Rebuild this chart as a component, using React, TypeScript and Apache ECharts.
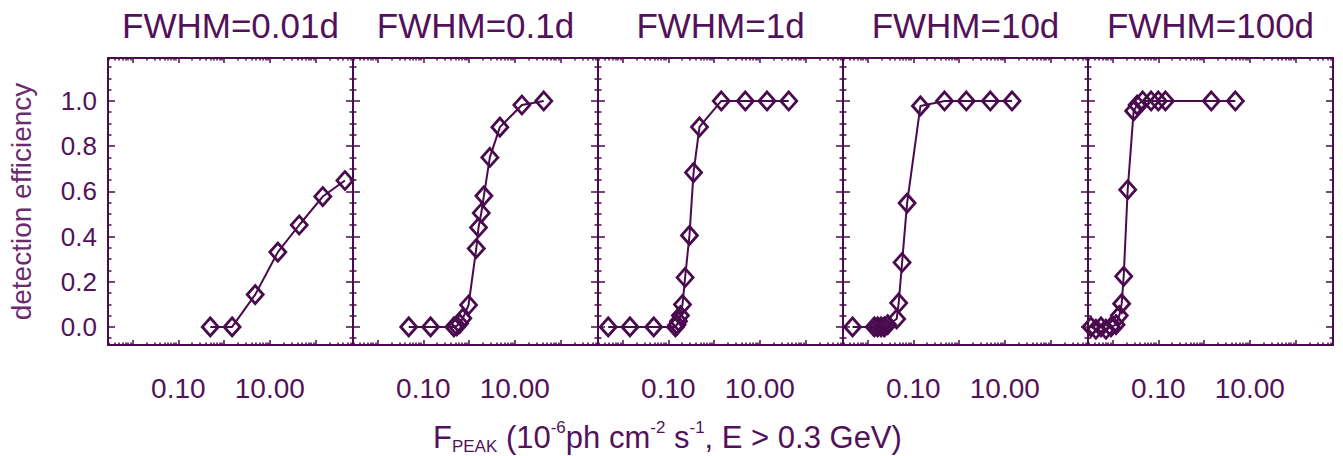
import React, { useEffect, useRef } from "react";
import * as echarts from "echarts";

// ---------- data ----------
const panelTitles = ["FWHM=0.01d", "FWHM=0.1d", "FWHM=1d", "FWHM=10d", "FWHM=100d"];

const p1X = [0.5, 1.5, 4.8, 15, 44, 144, 440];
const p1Y = [0, 0, 0.143, 0.331, 0.451, 0.577, 0.648];

const p2X = [0.048, 0.144, 0.466, 0.54, 0.62, 0.73, 0.975, 1.44, 1.61, 1.85, 2.11, 2.85, 4.72, 14.3, 43];
const p2Y = [0, 0, 0, 0.005, 0.015, 0.038, 0.097, 0.347, 0.44, 0.504, 0.58, 0.75, 0.884, 0.982, 1.0];

const p3X = [0.00485, 0.0145, 0.0479, 0.143, 0.155, 0.167, 0.184, 0.204, 0.233, 0.29, 0.356, 0.481, 1.44, 4.83, 14.4, 43];
const p3Y = [0, 0, 0, 0, 0.01, 0.025, 0.05, 0.099, 0.219, 0.405, 0.683, 0.885, 1, 1, 1, 1];

const p4X = [0.00469, 0.014, 0.0166, 0.0197, 0.0232, 0.0275, 0.0432, 0.0479, 0.0568, 0.0731, 0.143, 0.481, 1.44, 4.83, 14.4];
const p4Y = [0, 0, 0, 0, 0, 0.01, 0.035, 0.106, 0.285, 0.548, 0.978, 1, 1, 1, 1];

const p5X = [0.00336, 0.00432, 0.00557, 0.00716, 0.00922, 0.0119, 0.014, 0.0158, 0.0175, 0.0214, 0.0289, 0.0343, 0.0455, 0.0695, 0.1, 0.143, 1.44, 4.83];
const p5Y = [0, -0.01, 0, -0.01, 0, 0.01, 0.05, 0.103, 0.224, 0.607, 0.956, 0.982, 1, 1, 1, 1, 1, 1];

const panelX = [p1X, p2X, p3X, p4X, p5X];
const panelY = [p1Y, p2Y, p3Y, p4Y, p5Y];

const xMajorTicks = [0.01, 0.1, 1, 10, 100];
const xLabelTicks = [0.1, 10];
const xMinorTicks: number[] = [];
[0.001, 0.01, 0.1, 1, 10, 100].forEach((d) => {
  for (let m = 2; m <= 9; m++) xMinorTicks.push(+(d * m).toPrecision(3));
});
const yMajorTicks = [0, 0.2, 0.4, 0.6, 0.8, 1.0];
const yMinorTicks = [-0.05, 0.05, 0.1, 0.15, 0.25, 0.3, 0.35, 0.45, 0.5, 0.55, 0.65, 0.7, 0.75, 0.85, 0.9, 0.95, 1.05, 1.1, 1.15];

const X_MIN = 0.0029;
const X_MAX = 660;
const Y_MIN = -0.08;
const Y_MAX = 1.19;

const LINE = "#4a0a4e";
const TEXT = "#52115a";
const NAME = "#6a2c6e";
const FONT = "Liberation Sans, Arial, Helvetica, sans-serif";

const GRID_LEFT0 = 108;
const GRID_W = 245;
const GRID_TOP = 58;
const GRID_H = 287;

export default function App() {
  const ref = useRef<HTMLDivElement>(null);

  useEffect(() => {
    if (!ref.current) return;
    const chart = echarts.init(ref.current, null, { renderer: "svg" });

    const grids: any[] = [];
    const xAxes: any[] = [];
    const yAxes: any[] = [];
    const series: any[] = [];
    const titles: any[] = [];

    panelTitles.forEach((t, i) => {
      const left = GRID_LEFT0 + GRID_W * i;
      grids.push({ left, top: GRID_TOP, width: GRID_W, height: GRID_H, outerBoundsMode: "none", containLabel: false });
      titles.push({
        text: t,
        left: left + GRID_W / 2,
        top: 8,
        textAlign: "center",
        padding: 0,
        textStyle: { fontSize: 35, fontWeight: "normal", color: TEXT, fontFamily: FONT },
      });

      const xBase = (pos: string, major: boolean) => ({
        type: "log",
        gridIndex: i,
        min: X_MIN,
        max: X_MAX,
        position: pos,
        axisLine: { show: major, onZero: false, lineStyle: { color: LINE, width: 2 } },
        axisTick: {
          show: true,
          inside: true,
          length: major ? 5 : 2.5,
          customValues: major ? xMajorTicks : xMinorTicks,
          lineStyle: { color: LINE, width: 1.5 },
        },
        axisLabel:
          major && pos === "bottom"
            ? {
                show: true,
                customValues: xLabelTicks,
                formatter: (v: number) => Number(v).toFixed(2),
                margin: 29,
                fontSize: 28,
                color: TEXT,
                fontFamily: FONT,
              }
            : { show: false },
        splitLine: { show: false },
        minorTick: { show: false },
      });
      xAxes.push(xBase("bottom", true), xBase("bottom", false), xBase("top", true), xBase("top", false));

      const yBase = (pos: string, major: boolean) => {
        const withLabel = major && pos === "left" && i === 0;
        const ax: any = {
          type: "value",
          gridIndex: i,
          min: Y_MIN,
          max: Y_MAX,
          position: pos,
          axisLine: { show: major, onZero: false, lineStyle: { color: LINE, width: 2 } },
          axisTick: {
            show: true,
            inside: true,
            length: major ? 7 : 3.5,
            customValues: major ? yMajorTicks : yMinorTicks,
            lineStyle: { color: LINE, width: 1.5 },
          },
          axisLabel: withLabel
            ? {
                show: true,
                customValues: yMajorTicks,
                formatter: (v: number) => Number(v).toFixed(1),
                margin: 11,
                fontSize: 26,
                padding: [10, 0, 0, 0],
                color: TEXT,
                fontFamily: FONT,
              }
            : { show: false },
          splitLine: { show: false },
        };
        if (withLabel) {
          ax.name = "detection efficiency";
          ax.nameLocation = "middle";
          ax.nameRotate = 90;
          ax.nameGap = 73;
          ax.nameTextStyle = { fontSize: 28, color: NAME, fontFamily: FONT };
        }
        return ax;
      };
      yAxes.push(yBase("left", true), yBase("left", false), yBase("right", true), yBase("right", false));

      series.push({
        type: "line",
        xAxisIndex: i * 4,
        yAxisIndex: i * 4,
        data: panelX[i].map((x, k) => [x, panelY[i][k]]),
        symbol: "diamond",
        symbolSize: [16, 18],
        showSymbol: true,
        clip: false,
        lineStyle: { color: LINE, width: 2 },
        itemStyle: { color: "rgba(255,255,255,0)", borderColor: LINE, borderWidth: 2.8 },
        emphasis: { disabled: true },
        z: 5,
      });
    });

    chart.setOption({
      animation: false,
      backgroundColor: "#ffffff",
      title: titles,
      grid: grids,
      xAxis: xAxes,
      yAxis: yAxes,
      series,
      graphic: [
        {
          type: "text",
          x: 433,
          y: 419,
          style: {
            text: "{m|F}{sub|PEAK}{m| (10}{sup|-6}{m|ph cm}{sup|-2}{m| s}{sup|-1}{m|, E > 0.3 GeV)}",
            align: "left",
            verticalAlign: "top",
            fill: TEXT,
            fontFamily: FONT,
            fontSize: 31,
            rich: {
              m: { fontSize: 31, lineHeight: 36, fontFamily: FONT, fill: TEXT },
              sup: { fontSize: 17, lineHeight: 8, verticalAlign: "top", fontFamily: FONT, fill: TEXT },
              sub: { fontSize: 17, lineHeight: 14, verticalAlign: "bottom", fontFamily: FONT, fill: TEXT },
            },
          },
        },
      ],
    });

    return () => chart.dispose();
  }, []);

  return <div ref={ref} style={{ position: "fixed", left: 0, top: 0, width: 1343, height: 456 }} />;
}
